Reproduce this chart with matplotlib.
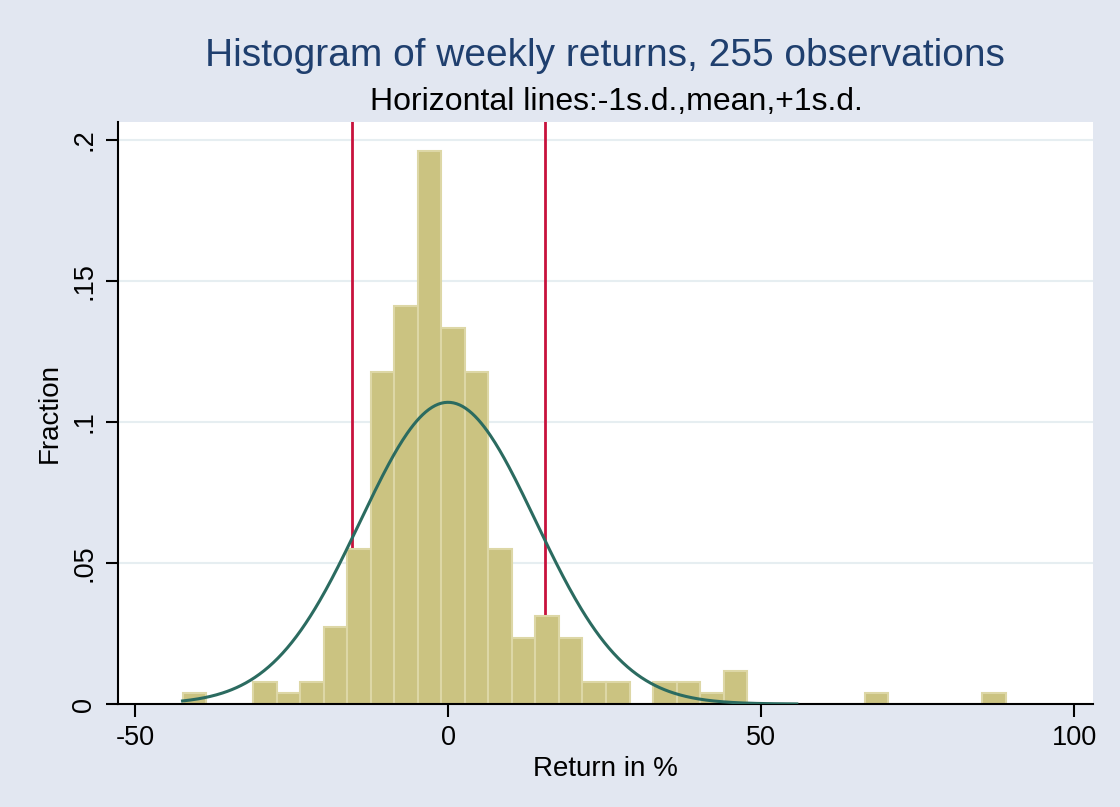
import numpy as np
import matplotlib.pyplot as plt

# Histogram counts (255 weekly returns, 35 bins)
bin_start = -42.4
bin_width = 3.757
counts = [1, 0, 0, 2, 1, 2, 7, 14, 30, 36, 50, 34, 30, 14, 6, 8, 6, 2, 2, 0,
          2, 2, 1, 3, 0, 0, 0, 0, 0, 1, 0, 0, 0, 0, 1]
n_obs = 255

# Reference lines: -1 s.d., mean, +1 s.d. (only two visible)
sd_lines = [-15.4, 15.5]

# Normal overlay parameters
curve_mean = 0.0
curve_sd = 14.0
curve_peak = 0.107
curve_range = (-42.4, 55.7)

bg = '#E2E7F1'
bar_face = '#CBC381'
bar_edge = '#DDD7A6'
curve_col = '#2B6B60'
line_col = '#C8123C'
title_col = '#1F3F6E'

plt.rcParams['font.family'] = ['Liberation Sans', 'DejaVu Sans']

fig = plt.figure(figsize=(11.2, 8.07), dpi=100, facecolor=bg)
ax = fig.add_axes([0.1054, 0.1276, 0.8705, 0.7212])
ax.set_facecolor('white')

edges = bin_start + bin_width * np.arange(len(counts) + 1)
fractions = np.array(counts) / n_obs

for x in sd_lines:
    ax.axvline(x, color=line_col, lw=2, zorder=1)

ax.bar(edges[:-1], fractions, width=bin_width, align='edge',
       color=bar_face, edgecolor=bar_edge, linewidth=1.5, zorder=2)

xs = np.linspace(curve_range[0], curve_range[1], 400)
ys = curve_peak * np.exp(-0.5 * ((xs - curve_mean) / curve_sd) ** 2)
ax.plot(xs, ys, color=curve_col, lw=2.2, zorder=3)

ax.set_xlim(-52.7, 103.0)
ax.set_ylim(0, 0.2064)

ax.set_xticks([-50, 0, 50, 100])
ax.set_xticklabels(['-50', '0', '50', '100'])
ax.set_yticks([0, 0.05, 0.1, 0.15, 0.2])
ax.set_yticklabels(['0', '.05', '.1', '.15', '.2'], rotation=90, va='center')

for y in [0.05, 0.1, 0.15, 0.2]:
    ax.axhline(y, color='#E6EEF1', lw=1.5, zorder=0)

for side in ['top', 'right']:
    ax.spines[side].set_visible(False)
ax.spines['left'].set_linewidth(1.5)
ax.spines['bottom'].set_linewidth(1.5)
ax.tick_params(axis='both', length=9, width=1.5, labelsize=19.5, pad=6)

ax.set_xlabel('Return in %', fontsize=20, labelpad=4)
ax.set_ylabel('Fraction', fontsize=20, labelpad=6)

fig.text(0.540, 0.930, 'Histogram of weekly returns, 255 observations',
         ha='center', va='center', fontsize=28, color=title_col)
fig.text(0.550, 0.874, 'Horizontal lines:-1s.d.,mean,+1s.d.',
         ha='center', va='center', fontsize=23, color='black')

fig.savefig('out.png', dpi=100, facecolor=bg)
